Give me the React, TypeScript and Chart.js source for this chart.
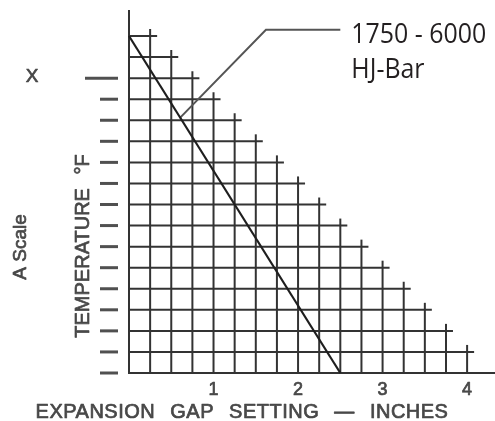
import React, { useEffect, useRef } from "react";
import { Chart, registerables } from "chart.js";

Chart.register(...registerables);

// ---- data ----
const xTickValues = [1, 2, 3, 4];
const gridColumns = [0.25, 0.5, 0.75, 1, 1.25, 1.5, 1.75, 2, 2.25, 2.5, 2.75, 3, 3.25, 3.5, 3.75, 4];
const columnTopLevels = [16, 15, 14, 13, 12, 11, 10, 9, 8, 7, 6, 5, 4, 3, 2, 1];
const gridRows = [0, 1, 2, 3, 4, 5, 6, 7, 8, 9, 10, 11, 12, 13, 14, 15, 16];
const rowEndInches = [4.25, 4, 3.75, 3.5, 3.25, 3, 2.75, 2.5, 2.25, 2, 1.75, 1.5, 1.25, 1, 0.75, 0.5, 0.25];
const scaleDashLevels = [0, 1, 2, 3, 4, 5, 6, 7, 8, 9, 10, 11, 12, 13, 14];
const xMarkLevel = 14;
const axisTopLevel = 17.24;
const hjBarX = [0, 2.5];
const hjBarY = [16, 0];
const leaderX = [0.6, 1.62, 2.5];
const leaderY = [12.1, 16.3, 16.3];
const annotationLines = ["1750 - 6000", "HJ-Bar"];
const xTitle = "EXPANSION GAP SETTING — INCHES";
const yTitle = "TEMPERATURE °F";
const aScaleLabel = "A Scale";
const xMarkLabel = "X";

const GRID = "#333333";
const TEXT = "#484848";
const SANS = "'Liberation Sans', Arial, Helvetica, sans-serif";

const nomogramPlugin = {
  id: "nomogram",
  beforeDatasetsDraw(chart: any) {
    const { ctx, scales } = chart;
    const xs = scales.x;
    const ys = scales.y;
    const px = (v: number) => xs.getPixelForValue(v);
    const py = (v: number) => ys.getPixelForValue(v);
    ctx.save();
    ctx.strokeStyle = GRID;
    ctx.lineWidth = 2;
    ctx.lineCap = "butt";
    const line = (x1: number, y1: number, x2: number, y2: number) => {
      ctx.beginPath();
      ctx.moveTo(x1, y1);
      ctx.lineTo(x2, y2);
      ctx.stroke();
    };
    // main vertical axis
    line(px(0), py(0) + 1, px(0), py(axisTopLevel));
    // columns
    gridColumns.forEach((c, i) => {
      line(px(c), py(0) + 1, px(c), py(columnTopLevels[i]) - 7);
    });
    // rows
    gridRows.forEach((r, i) => {
      line(px(0), py(r), px(rowEndInches[i]) + 7, py(r));
    });
    // scale dashes on the left
    ctx.strokeStyle = "#505050";
    ctx.lineWidth = 3;
    scaleDashLevels.forEach((l) => {
      const start = l === xMarkLevel ? px(0) - 44 : px(0) - 29;
      line(start, py(l), px(0) - 11, py(l));
    });
    ctx.restore();
  },
  afterDraw(chart: any) {
    const { ctx, scales } = chart;
    const xs = scales.x;
    const ys = scales.y;
    const px = (v: number) => xs.getPixelForValue(v);
    const py = (v: number) => ys.getPixelForValue(v);
    const heavyText = (t: string, x: number, y: number) => {
      ctx.fillText(t, x, y);
      ctx.strokeText(t, x, y);
    };
    ctx.save();
    ctx.fillStyle = TEXT;
    ctx.strokeStyle = TEXT;
    ctx.lineWidth = 0.7;
    ctx.lineJoin = "round";
    ctx.textAlign = "center";
    ctx.textBaseline = "middle";
    // x tick labels
    ctx.font = `18px ${SANS}`;
    xTickValues.forEach((v) => heavyText(String(v), px(v), py(0) + 17));
    // x title
    ctx.font = `20px ${SANS}`;
    (ctx as any).letterSpacing = "0.5px";
    (ctx as any).wordSpacing = "9px";
    heavyText(xTitle, 242, py(0) + 39);
    (ctx as any).wordSpacing = "0px";
    (ctx as any).letterSpacing = "0px";
    // y title
    ctx.save();
    ctx.translate(83, 246);
    ctx.rotate(-Math.PI / 2);
    ctx.font = `20px ${SANS}`;
    (ctx as any).wordSpacing = "8px";
    heavyText(yTitle, 0, 0);
    (ctx as any).wordSpacing = "0px";
    ctx.restore();
    // A Scale
    ctx.save();
    ctx.translate(21, 247);
    ctx.rotate(-Math.PI / 2);
    ctx.font = `19px ${SANS}`;
    heavyText(aScaleLabel, 0, 0);
    ctx.restore();
    // X mark
    ctx.font = `19px ${SANS}`;
    heavyText(xMarkLabel, 32, py(xMarkLevel) - 1);
    // annotation
    ctx.fillStyle = "#231f20";
    ctx.textAlign = "left";
    ctx.textBaseline = "alphabetic";
    ctx.font = "28px 'Open Sans', 'Noto Sans', sans-serif";
    const left = px(leaderX[2]) + 11;
    const baseY = py(leaderY[2]);
    annotationLines.forEach((t, i) => {
      ctx.save();
      ctx.translate(left, baseY + 13 + i * 35);
      ctx.scale(0.89, 1);
      ctx.fillText(t, 0, 0);
      ctx.restore();
    });
    ctx.restore();
  },
};

export default function App() {
  const canvasRef = useRef<HTMLCanvasElement | null>(null);

  useEffect(() => {
    if (!canvasRef.current) return;
    const chart = new Chart(canvasRef.current, {
      type: "scatter",
      data: {
        datasets: [
          {
            label: "1750 - 6000 HJ-Bar",
            data: hjBarX.map((x, i) => ({ x, y: hjBarY[i] })),
            showLine: true,
            borderColor: "#1e1e1e",
            borderWidth: 2.2,
            pointRadius: 0,
            clip: false as any,
          },
          {
            label: "leader",
            data: leaderX.map((x, i) => ({ x, y: leaderY[i] })),
            showLine: true,
            borderColor: "#555555",
            borderWidth: 2,
            pointRadius: 0,
            clip: false as any,
          },
        ],
      },
      options: {
        animation: false,
        responsive: true,
        maintainAspectRatio: false,
        layout: { padding: { left: 129, right: 0, top: 0, bottom: 48 } },
        plugins: { legend: { display: false }, tooltip: { enabled: false } },
        scales: {
          x: { type: "linear", min: 0, max: 4.33, display: false },
          y: { type: "linear", min: 0, max: 17.71, display: false },
        },
      },
      plugins: [nomogramPlugin],
    });
    return () => chart.destroy();
  }, []);

  return (
    <div style={{ position: "fixed", left: 0, top: 0, width: 495, height: 421, background: "#fff" }}>
      <canvas ref={canvasRef} />
    </div>
  );
}
